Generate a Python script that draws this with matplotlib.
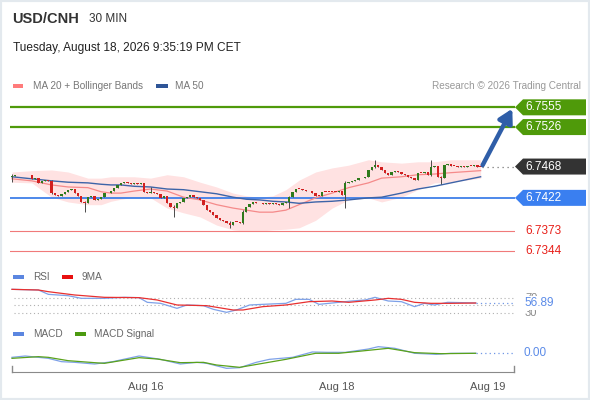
import matplotlib
matplotlib.use("Agg")
import matplotlib.pyplot as plt
import matplotlib.transforms as mtransforms
from matplotlib.patches import Polygon, Rectangle

plt.rcParams['font.family'] = ['Liberation Sans', 'DejaVu Sans']

# ---- data (30 min candles, index 0 = first visible bar) ----
first_open = 6.7453
closes = [
    6.7454, 6.7455, 6.7455, 6.7455, 6.7456, 6.7455, 6.7450, 6.7451, 6.7444, 6.7447,
    6.7448, 6.7447, 6.7429, 6.7426, 6.7425, 6.7428, 6.7431, 6.7434, 6.7435, 6.7429,
    6.7425, 6.7416, 6.7414, 6.7423, 6.7425, 6.7419, 6.7420, 6.7423, 6.7429, 6.7429,
    6.7432, 6.7436, 6.7441, 6.7444, 6.7445, 6.7444, 6.7442, 6.7444, 6.7442, 6.7444,
    6.7431, 6.7429, 6.7431, 6.7429, 6.7428, 6.7422, 6.7425, 6.7414, 6.7409, 6.7407,
    6.7414, 6.7416, 6.7422, 6.7423, 6.7426, 6.7423, 6.7422, 6.7419, 6.7412, 6.7404,
    6.7401, 6.7397, 6.7392, 6.7389, 6.7388, 6.7385, 6.7382, 6.7387, 6.7387, 6.7385,
    6.7401, 6.7409, 6.7413, 6.7416, 6.7414, 6.7414, 6.7413, 6.7414, 6.7413, 6.7414,
    6.7413, 6.7412, 6.7414, 6.7416, 6.7423, 6.7431, 6.7435, 6.7435, 6.7434, 6.7432,
    6.7432, 6.7429, 6.7425, 6.7425, 6.7431, 6.7431, 6.7431, 6.7431, 6.7431, 6.7432,
    6.7426, 6.7444, 6.7445, 6.7447, 6.7448, 6.7451, 6.7451, 6.7453, 6.7463, 6.7467,
    6.7470, 6.7467, 6.7463, 6.7459, 6.7456, 6.7460, 6.7462, 6.7460, 6.7457, 6.7456,
    6.7453, 6.7451, 6.7448, 6.7459, 6.7459, 6.7460, 6.7456, 6.7467, 6.7469, 6.7453,
    6.7451, 6.7470, 6.7472, 6.7469, 6.7469, 6.7467, 6.7469, 6.7468, 6.7469, 6.7469,
    6.7470, 6.7468, 6.7468,
]
# visible wicks (index: (high, low))
wicks = {
    0: (6.7457, 6.7445), 12: (6.7448, 6.7428), 22: (6.7417, 6.7401),
    42: (6.7438, 6.7429), 49: (6.7412, 6.7394), 66: (6.7388, 6.7378),
    70: (6.7404, 6.7384), 84: (6.7425, 6.7407), 101: (6.7447, 6.7407),
    110: (6.7478, 6.7466), 127: (6.7478, 6.7454), 130: (6.7454, 6.7442),
}

ma_idx = [0, 6, 12, 17, 23, 27, 30, 33, 37, 42, 47, 52, 57, 62, 67,
          71, 75, 79, 83, 87, 92, 97, 102, 108, 112, 118, 123, 128, 133, 142]
ma20 = [6.7450, 6.7447, 6.7441, 6.7438, 6.7437, 6.7431, 6.7429, 6.7429, 6.7432, 6.7435,
        6.7432, 6.7423, 6.7419, 6.7412, 6.7407, 6.7404, 6.7401, 6.7401, 6.7404, 6.7412,
        6.7422, 6.7429, 6.7437, 6.7444, 6.7451, 6.7453, 6.7456, 6.7457, 6.7459, 6.7462]
ma50 = [6.7453, 6.7450, 6.7447, 6.7445, 6.7444, 6.7442, 6.7441, 6.7441, 6.7439, 6.7438,
        6.7435, 6.7434, 6.7431, 6.7428, 6.7423, 6.7420, 6.7419, 6.7417, 6.7416, 6.7414,
        6.7416, 6.7417, 6.7419, 6.7422, 6.7423, 6.7429, 6.7435, 6.7439, 6.7444, 6.7453]
bb_upper = [6.7460, 6.7462, 6.7463, 6.7460, 6.7451, 6.7451, 6.7453, 6.7453, 6.7453, 6.7451,
            6.7456, 6.7453, 6.7445, 6.7438, 6.7429, 6.7425, 6.7423, 6.7425, 6.7434, 6.7448,
            6.7460, 6.7466, 6.7470, 6.7478, 6.7475, 6.7473, 6.7475, 6.7475, 6.7478, 6.7478]
bb_lower = [6.7445, 6.7444, 6.7423, 6.7416, 6.7412, 6.7412, 6.7417, 6.7420, 6.7423, 6.7422,
            6.7407, 6.7400, 6.7394, 6.7382, 6.7375, 6.7373, 6.7373, 6.7375, 6.7376, 6.7378,
            6.7389, 6.7407, 6.7419, 6.7422, 6.7416, 6.7423, 6.7434, 6.7444, 6.7445, 6.7451]

resistances = [6.7555, 6.7526]
last_price = 6.7468
pivot = 6.7422
supports = [6.7373, 6.7344]

rsi_idx = [0, 8, 11, 17, 21, 28, 34, 38.5, 41, 45, 50, 53, 58, 61, 65, 68, 72,
           76, 83, 86, 90, 93, 99, 103, 107, 110, 114, 118, 122, 125, 128, 132, 136.5, 140.5]
rsi = [94.9, 93.1, 81.0, 77.3, 69.9, 69.9, 72.7, 71.8, 58.8, 56.0, 42.1, 51.4, 49.5,
       39.4, 31.0, 37.5, 51.4, 53.2, 56.0, 67.1, 67.1, 53.2, 58.8, 62.5, 65.3, 72.7,
       62.5, 60.6, 46.8, 56.0, 51.4, 58.8, 57.9, 56.89]
rsi_ma_idx = [0, 8, 11, 19, 28, 38.5, 44, 50, 59, 67, 70, 76, 83, 90, 97, 102,
              110, 114, 118, 122, 127, 133, 140.5]
rsi_ma = [94.9, 93.1, 88.4, 79.2, 72.7, 71.8, 65.3, 51.4, 49.5, 37.5, 37.5, 46.8,
          51.4, 60.6, 62.5, 58.8, 65.3, 69.9, 67.1, 58.8, 56.0, 56.0, 56.9]

macd_idx = [0, 4, 11, 15, 19, 25, 30.5, 38.5, 45, 51, 56, 59, 65, 69, 74, 78,
            85, 91, 95.5, 101, 108, 111, 116, 122, 128.5, 133, 140.5]
macd = [-1.21, -0.81, -1.51, -2.51, -2.71, -3.21, -2.51, -0.81, -1.81, -3.21, -2.71,
        -3.01, -4.51, -4.31, -2.71, -1.81, -1.21, 0.39, 0.29, 0.29, 1.29, 1.99, 1.50,
        0.0, -0.31, 0.0, 0.0]
signal_idx = [0, 8, 11, 17, 25, 28, 38.5, 44, 51, 58, 62, 69, 76, 83, 92, 99,
              106, 114, 122, 130, 140.5]
signal = [-1.51, -1.01, -1.21, -2.21, -2.81, -3.01, -1.31, -1.71, -2.81, -2.71,
          -3.51, -4.21, -3.01, -1.81, 0.0, 0.0, 0.69, 1.50, 0.19, -0.11, 0.0]

day_ticks = [40.6, 98.5, 144.2]
day_labels = ['Aug 16', 'Aug 18', 'Aug 19']

# ---- layout helpers (pixel positions on a 590x400 canvas) ----
W, H = 590, 400
fig = plt.figure(figsize=(W / 100, H / 100), dpi=100)


def fx(px):
    return px / W


def fy(py):
    return 1 - py / H


def ftext(px, py, s, **kw):
    fig.text(fx(px), fy(py), s, va='center', **kw)


def swatch(px, py, color, w=11, h=4):
    fig.patches.append(Rectangle((fx(px), fy(py + h / 2)), w / W, h / H,
                                 transform=fig.transFigure, color=color, lw=0))


fig.patches.append(Rectangle((0, 0), 1, 1, transform=fig.transFigure,
                             fill=False, edgecolor='#e3e9ee', lw=3))

x_lo, x_hi = -0.606, 152.42
up_col, down_col, wick_col = '#2f7a1c', '#d21f1f', '#4a4a4a'
green_lvl, blue_lvl, red_lvl = '#4f9a0a', '#3f7fe8', '#e8201a'

# ---- header ----
ftext(12, 19, 'USD/CNH', fontsize=10.5, fontweight='bold', color='#333333')
ftext(89, 19, '30 MIN', fontsize=8.5, color='#333333')
ftext(13, 48, 'Tuesday, August 18, 2026 9:35:19 PM CET', fontsize=8.6, color='#222222')
swatch(13, 86, '#ff7b7b', w=10)
ftext(33, 86, 'MA 20 + Bollinger Bands', fontsize=7.2, color='#777777')
swatch(156, 86, '#2f5597', w=12)
ftext(175, 86, 'MA 50', fontsize=7.2, color='#777777')
ftext(581, 86, 'Research \u00a9 2026 Trading Central', fontsize=7.2, color='#999999', ha='right')

# ---- price panel ----
ax = fig.add_axes([fx(10), fy(262), fx(505), 167 / H])
ax.set_xlim(x_lo, x_hi)
ymin, ymax = 6.73278, 6.75731
ax.set_ylim(ymin, ymax)
ax.axis('off')
px_per_unit = 167 / (ymax - ymin)

ax.fill_between(ma_idx, bb_lower, bb_upper, color='#ffe2e2', lw=0, zorder=1)
ax.plot(ma_idx, ma20, color='#f58a8a', lw=0.9, zorder=2)
ax.plot(ma_idx, ma50, color='#3d64a8', lw=1.0, zorder=2)

for lvl in resistances:
    ax.axhline(lvl, color=green_lvl, lw=1.6, zorder=1.5)
ax.axhline(pivot, color=blue_lvl, lw=1.3, zorder=1.5)
for lvl in supports:
    ax.axhline(lvl, color='#f07a7a', lw=0.8, zorder=1.5)

opens = [first_open] + closes[:-1]
for i, (o, c) in enumerate(zip(opens, closes)):
    hi, lo = wicks.get(i, (max(o, c), min(o, c)))
    ax.vlines(i, lo, hi, color=wick_col, lw=0.7, zorder=3)
    col = up_col if c > o else down_col
    ax.add_patch(Rectangle((i - 0.36, min(o, c)), 0.72, max(abs(c - o), 0.00008),
                           color=col, lw=0, zorder=4))

n = len(closes)
ax.plot([n - 0.5, x_hi], [last_price, last_price], color='#777777', lw=0.9,
        linestyle=(0, (1, 3)), zorder=2)
ax.annotate('', xy=(151.6, resistances[0] - 0.0002), xytext=(n - 0.4, last_price + 0.0002),
            arrowprops=dict(arrowstyle='-|>,head_width=0.45,head_length=0.8', lw=3.2,
                            color='#2f5ea8', shrinkA=0, shrinkB=0),
            annotation_clip=False, zorder=6)

blend = mtransforms.blended_transform_factory(fig.transFigure, ax.transData)
half = 8 / px_per_unit


def level_box(lvl, color):
    pts = [(fx(515), lvl), (fx(523), lvl + half), (fx(586), lvl + half),
           (fx(586), lvl - half), (fx(523), lvl - half)]
    fig.patches.append(Polygon(pts, closed=True, transform=blend, color=color, lw=0))
    fig.text(fx(525), lvl, f'{lvl:.4f}', transform=blend, va='center',
             fontsize=8.5, color='white')


for lvl in resistances:
    level_box(lvl, green_lvl)
level_box(last_price, '#333333')
level_box(pivot, '#3a7ff0')
for lvl in supports:
    fig.text(fx(525), lvl, f'{lvl:.4f}', transform=blend, va='center',
             fontsize=8.5, color=red_lvl)

# ---- RSI panel ----
swatch(13, 277, '#5b86e0')
ftext(33, 277, 'RSI', fontsize=7.2, color='#666666')
swatch(62, 277, '#e81010')
ftext(82, 277, '9MA', fontsize=7.2, color='#666666')

ax_rsi = fig.add_axes([fx(10), fy(316), fx(505), 29 / H])
ax_rsi.set_xlim(x_lo, x_hi)
ax_rsi.set_ylim(20.8, 101.4)
ax_rsi.axis('off')
for lvl in (70, 50, 30):
    ax_rsi.plot([0.5, x_hi], [lvl, lvl], color='#b0b0b0', lw=0.8, linestyle=(0, (1, 2.5)))
ax_rsi.plot(rsi_idx, rsi, color='#7ea1e8', lw=0.9)
ax_rsi.plot(rsi_ma_idx, rsi_ma, color='#e83030', lw=0.9)
ax_rsi.plot([rsi_idx[-1], x_hi], [rsi[-1], rsi[-1]], color='#6f96e6', lw=0.9,
            linestyle=(0, (1, 2.5)))
rblend = mtransforms.blended_transform_factory(fig.transFigure, ax_rsi.transData)
fig.text(fx(525), 70, '70', transform=rblend, va='center', fontsize=8, color='#888888')
fig.text(fx(525), 30, '30', transform=rblend, va='center', fontsize=8, color='#888888')
fig.text(fx(524), rsi[-1], f'{rsi[-1]:.2f}', transform=rblend, va='center', fontsize=8.5,
         color='#5b8be8', bbox=dict(facecolor='white', edgecolor='none', pad=0.6))

# ---- MACD panel ----
swatch(13, 334, '#5b86e0')
ftext(33, 334, 'MACD', fontsize=7.2, color='#666666')
swatch(75, 334, '#4c9a10')
ftext(94, 334, 'MACD Signal', fontsize=7.2, color='#666666')

ax_m = fig.add_axes([fx(10), fy(372), fx(505), 32 / H])
ax_m.set_xlim(x_lo, x_hi)
ax_m.set_ylim(-5.61, 3.99)
for side in ('top', 'right', 'left'):
    ax_m.spines[side].set_visible(False)
ax_m.spines['bottom'].set_color('#8a8a8a')
ax_m.spines['bottom'].set_bounds(0, 152.1)
ax_m.set_yticks([])
ax_m.set_xticks(day_ticks)
ax_m.set_xticklabels(day_labels, fontsize=8, color='#555555')
ax_m.tick_params(axis='x', length=0, pad=7)
for xe in (0, 152.1):
    ax_m.plot([xe, xe], [-5.61, -3.8], color='#8a8a8a', lw=1, clip_on=False)
ax_m.plot(macd_idx, macd, color='#7ea1e8', lw=0.9)
ax_m.plot(signal_idx, signal, color='#5aa21a', lw=0.9)
ax_m.plot([macd_idx[-1], x_hi], [macd[-1], macd[-1]], color='#6f96e6', lw=0.9,
          linestyle=(0, (1, 2.5)))
mblend = mtransforms.blended_transform_factory(fig.transFigure, ax_m.transData)
fig.text(fx(524), macd[-1], f'{macd[-1]:.2f}', transform=mblend, va='center',
         fontsize=8.5, color='#5b8be8')

fig.savefig('out.png', dpi=100, facecolor='white')
